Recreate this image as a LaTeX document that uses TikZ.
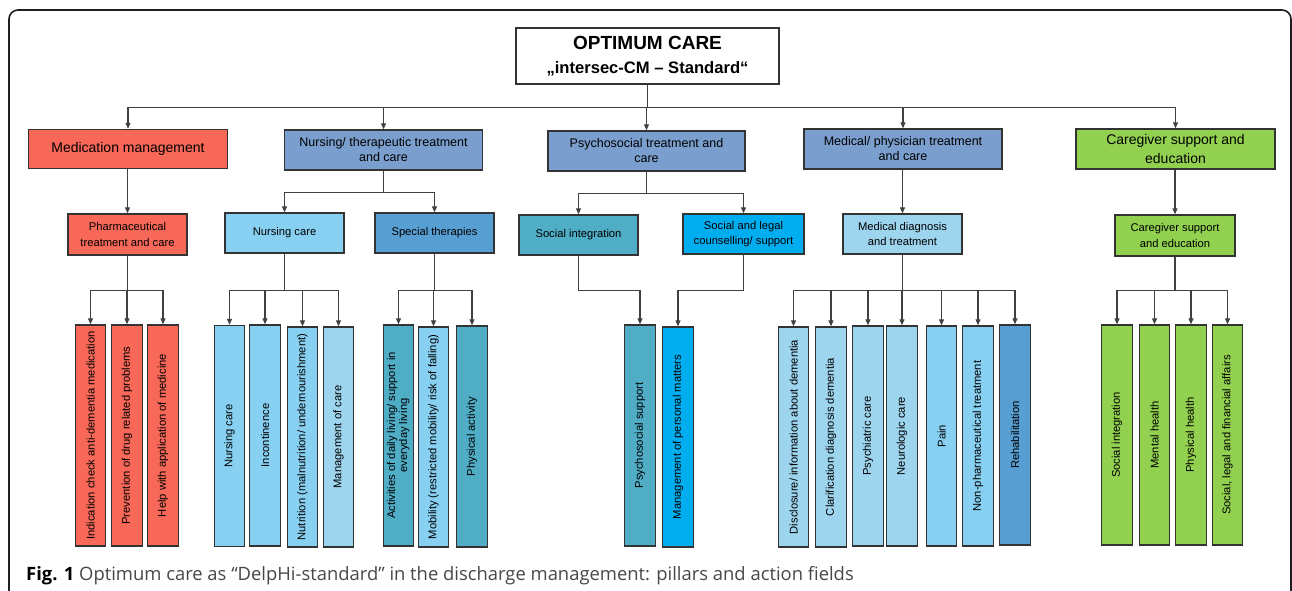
\documentclass[tikz,border=0pt]{standalone}
\usepackage{fontspec}
\setmainfont{Liberation Sans}
\newfontfamily\capfont{Open Sans}
\usetikzlibrary{arrows.meta}
\definecolor{cred}{HTML}{F76858}
\definecolor{csteel}{HTML}{7A9FCE}
\definecolor{cgreen}{HTML}{92D050}
\definecolor{clight}{HTML}{88D0F2}
\definecolor{clighter}{HTML}{9DD4EE}
\definecolor{cmid}{HTML}{579FD2}
\definecolor{cteal}{HTML}{4FADC6}
\definecolor{cbright}{HTML}{00ADEE}
\definecolor{cline}{HTML}{333333}
\definecolor{cconn}{HTML}{404040}
\definecolor{capgray}{HTML}{474747}
\newcommand\leafbar[6]{%
  \node[leaf, fill=#2, minimum height={#5-#4}] (#1) at (#3,{(#4+#5)/2}) {\rotatebox{90}{#6}};}
\begin{document}
\begin{tikzpicture}[x=1pt,y=-1pt,
  box/.style={draw=cline, line width=1.4pt, inner sep=0pt, align=center, text=black},
  lone/.style={box, font=\fontsize{12.5}{15}\selectfont, fill=csteel, minimum width=198, minimum height=40},
  ltwo/.style={box, font=\fontsize{11.2}{15.3}\selectfont, minimum width=119, minimum height=40},
  leaf/.style={box, font=\fontsize{11.2}{13.5}\selectfont, minimum width=30.5},
  arr/.style={draw=cconn, line width=1.1pt, -{Triangle[length=6pt,width=5pt]}},
  frame/.style={draw=black!88, line width=1.6pt, rounded corners=9pt}
]
\useasboundingbox (0,0) rectangle (1292,590);
\clip (0,0) rectangle (1292,590);
\draw[frame] (9,10) rectangle (1291,700);

% root
\node[box, fill=white, minimum width=263, minimum height=56, font=\fontsize{16.6}{24}\selectfont\bfseries]
  (root) at (647.5,56) {{\fontsize{19}{24}\selectfont OPTIMUM CARE}\\„intersec-CM – Standard“};

% level 1
\node[box, fill=cred, minimum width=199, minimum height=39, font=\fontsize{14}{19}\selectfont] (med) at (128,149) {Medication management};
\node[lone] (nurs) at (383.5,150) {Nursing/ therapeutic treatment\\and care};
\node[lone, minimum width=197] (psy) at (646.5,151) {Psychosocial treatment and\\care};
\node[lone] (medi) at (903,149) {Medical/ physician treatment\\and care};
\node[box, fill=cgreen, minimum width=199, minimum height=40, font=\fontsize{14}{19.3}\selectfont] (care) at (1175.5,149) {Caregiver support and\\education};

% level 2
\node[ltwo, fill=cred, minimum height=41] (pharm) at (127.5,234.5) {Pharmaceutical\\treatment and care};
\node[ltwo, fill=clight] (ncare) at (284.5,233) {Nursing care};
\node[ltwo, fill=cmid] (spec) at (434.5,233) {Special therapies};
\node[ltwo, fill=cteal] (sint) at (578.5,235) {Social integration};
\node[ltwo, fill=cbright, minimum width=121] (slegal) at (743.5,234) {Social and legal\\counselling/ support};
\node[ltwo, fill=clighter] (mdiag) at (902.5,234) {Medical diagnosis\\and treatment};
\node[ltwo, fill=cgreen, minimum width=120, minimum height=41] (cgl) at (1175,235.5) {Caregiver support\\and education};

% leaves
\leafbar{m1}{cred}{90.5}{325}{546}{Indication check anti-dementia medication}
\leafbar{m2}{cred}{127}{325}{546}{Prevention of drug related problems}
\leafbar{m3}{cred}{163}{325}{546}{Help with application of medicine}
\leafbar{n1}{clight}{229.5}{325.5}{546.5}{Nursing care}
\leafbar{n2}{clight}{265}{325}{546}{Incontinence}
\leafbar{n3}{clight}{302.5}{327}{547}{Nutrition (malnutrition/ undernourishment)}
\leafbar{n4}{clighter}{338.5}{327}{547}{Management of care}
\leafbar{s1}{cteal}{398.5}{325}{546}{\begin{tabular}{@{}c@{}}Activities of daily living/ support in\\[-1.5pt]everyday living\end{tabular}}
\leafbar{s2}{clight}{433.5}{327}{547}{Mobility (restricted mobility/ risk of falling)}
\leafbar{s3}{cteal}{472}{326}{547}{Physical activity}
\leafbar{p1}{cteal}{640}{325}{546}{Psychosocial support}
\leafbar{p2}{cbright}{678}{327}{547}{Management of personal matters}
\leafbar{d1}{clighter}{793.5}{327}{547}{Disclosure/ information about dementia}
\leafbar{d2}{clighter}{831}{327}{547}{Clarification diagnosis dementia}
\leafbar{d3}{clighter}{868}{326}{546}{Psychiatric care}
\leafbar{d4}{clighter}{902}{326}{546}{Neurologic care}
\leafbar{d5}{clight}{941.5}{326}{546}{Pain}
\leafbar{d6}{clight}{978}{326}{546}{Non-pharmaceutical treatment}
\leafbar{d7}{cmid}{1015}{325}{545}{Rehabilitation}
\leafbar{c1}{cgreen}{1117}{325}{545}{Social integration}
\leafbar{c2}{cgreen}{1154.5}{325}{545}{Mental health}
\leafbar{c3}{cgreen}{1191}{325}{545}{Physical health}
\leafbar{c4}{cgreen}{1227.5}{325}{545}{Social, legal and financial affairs}

% connectors root -> level 1
\foreach \t in {med,nurs,psy,medi,care}
  \draw[arr] (root.south) -- ++(0,23) -| (\t.north);
% level 1 -> level 2
\draw[arr] (med.south -| pharm.north) -- (pharm.north);
\draw[arr] (nurs.south) -- ++(0,22) -| (ncare.north);
\draw[arr] (nurs.south) -- ++(0,22) -| (spec.north);
\draw[arr] (psy.south) -- ++(0,22) -| (sint.north);
\draw[arr] (psy.south) -- ++(0,22) -| (slegal.north);
\draw[arr] (medi.south -| mdiag.north) -- (mdiag.north);
\draw[arr] (care.south -| cgl.north) -- (cgl.north);
% level 2 -> leaves
\foreach \t in {m1,m2,m3} \draw[arr] (pharm.south) -- ++(0,35) -| (\t.north);
\foreach \t in {n1,n2,n3,n4} \draw[arr] (ncare.south) -- ++(0,37) -| (\t.north);
\foreach \t in {s1,s2,s3} \draw[arr] (spec.south) -- ++(0,37) -| (\t.north);
\draw[arr] (sint.south) -- ++(0,35) -| (p1.north);
\draw[arr] (slegal.south) -- ++(0,36) -| (p2.north);
\foreach \t in {d1,d2,d3,d4,d5,d6,d7} \draw[arr] (mdiag.south) -- ++(0,36) -| (\t.north);
\foreach \t in {c1,c2,c3,c4} \draw[arr] (cgl.south) -- ++(0,34) -| (\t.north);

% caption
\node[anchor=base west, inner sep=0pt, font=\capfont\fontsize{18.4}{21}\selectfont] (cap) at (26,580)
  {\textbf{Fig. 1} \textcolor{capgray}{Optimum care as “DelpHi-standard” in the discharge management: pillars and action fields}};
\end{tikzpicture}
\end{document}
